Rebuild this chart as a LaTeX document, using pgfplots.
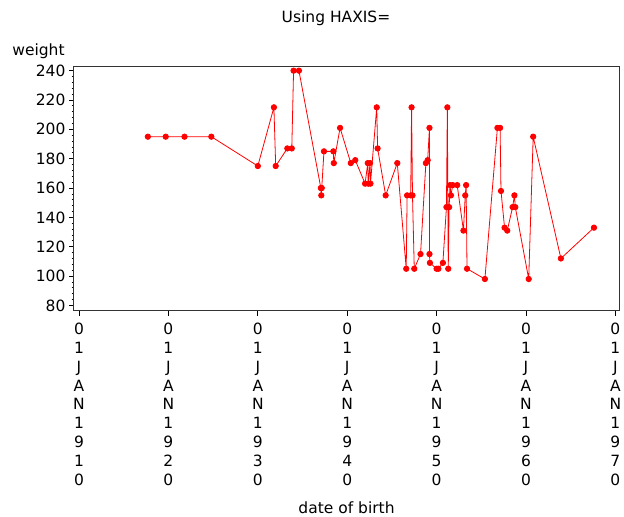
\documentclass[border=0pt]{standalone}
\usepackage{pgfplots}
\pgfplotsset{compat=1.18}
\usepackage{fontspec}
\setmainfont{DejaVu Sans}
\begin{document}
\begin{tikzpicture}[font=\fontsize{15.5}{18.8}\selectfont]
\path[use as bounding box] (-74pt,-206pt) rectangle (550pt,310.7pt);
\begin{axis}[
    at={(0pt,0pt)}, anchor=south west,
    scale only axis, width=545pt, height=244pt,
    xmin=1909.44, xmax=1970.4,
    ymin=76.4, ymax=242.7,
    xtick={1910,1920,1930,1940,1950,1960,1970},
    xticklabels={{0\\1\\J\\A\\N\\1\\9\\1\\0},{0\\1\\J\\A\\N\\1\\9\\2\\0},
                 {0\\1\\J\\A\\N\\1\\9\\3\\0},{0\\1\\J\\A\\N\\1\\9\\4\\0},
                 {0\\1\\J\\A\\N\\1\\9\\5\\0},{0\\1\\J\\A\\N\\1\\9\\6\\0},
                 {0\\1\\J\\A\\N\\1\\9\\7\\0}},
    xticklabel style={align=center, yshift=-4pt},
    ytick={80,100,...,240},
    minor y tick num=4,
    tick pos=left, tick align=outside,
    major tick length=5pt, minor tick length=2.5pt,
    tick label style={font=\fontsize{15.5}{18.8}\selectfont},
    /pgf/number format/assume math mode=true,
    axis line style={black!80, line width=1pt},
    tick style={black, line width=0.8pt},
    clip=false,
]
\addplot[color=red, line width=0.8pt, mark=*, mark size=2.7pt] coordinates {
(1917.7,195)(1919.7,195)(1921.8,195)(1924.8,195)(1930.0,175)(1931.8,215)
(1932.0,175)(1933.3,187)(1933.8,187)(1934.0,240)(1934.6,240)(1937.05,160)
(1937.1,155)(1937.15,160)(1937.4,185)(1938.45,185)(1938.5,177)(1939.2,201)
(1940.4,177)(1940.9,179)(1942.0,163)(1942.3,177)(1942.35,163)(1942.55,177)
(1942.6,163)(1943.3,215)(1943.4,187)(1944.3,155)(1945.6,177)(1946.6,105)
(1946.7,155)(1947.1,155)(1947.2,215)(1947.3,155)(1947.5,105)(1948.2,115)
(1948.8,177)(1949.0,179)(1949.2,201)(1949.2,115)(1949.25,109)(1950.0,105)
(1950.2,105)(1950.7,109)(1951.1,147)(1951.2,215)(1951.3,105)(1951.4,147)
(1951.5,162)(1951.6,155)(1951.8,162)(1952.3,162)(1953.0,131)(1953.2,155)
(1953.3,162)(1953.4,105)(1955.4,98)(1956.8,201)(1957.1,201)(1957.2,158)
(1957.6,133)(1957.9,131)(1958.5,147)(1958.7,155)(1958.8,147)(1960.3,98)
(1960.8,195)(1963.9,112)(1967.6,133)
};
\end{axis}
\node at (262pt,292.7pt) {Using HAXIS=};
\node at (-35.5pt,259pt) {weight};
\node at (272.5pt,-197pt) {date of birth};
\end{tikzpicture}
\end{document}
